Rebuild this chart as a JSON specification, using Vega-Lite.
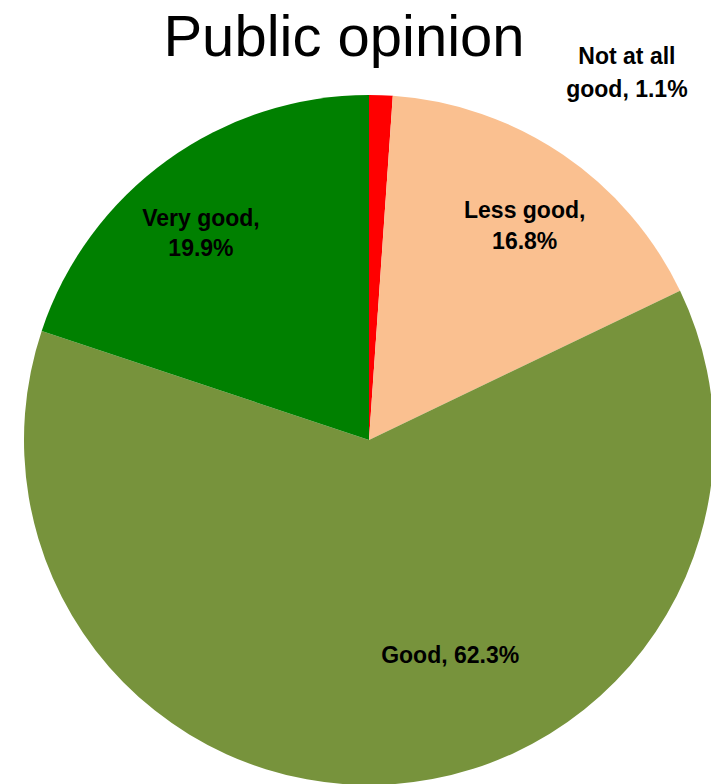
{
  "$schema": "https://vega.github.io/schema/vega-lite/v6.json",
  "autosize": "none",
  "padding": {"left": 27, "top": 96, "right": 0, "bottom": 0},
  "width": 684,
  "height": 688,
  "background": "white",
  "config": {"view": {"stroke": null}},
  "title": {
    "text": "Public opinion",
    "font": "Liberation Sans",
    "fontSize": 58,
    "fontWeight": "normal",
    "color": "black",
    "anchor": "middle",
    "dx": -25,
    "offset": -22
  },
  "data": {
    "values": [
      {"category": "Not at all good", "share": 1.1, "rank": 1, "label": "Not at all\ngood, 1.1%"},
      {"category": "Less good", "share": 16.8, "rank": 2, "label": "Less good,\n16.8%"},
      {"category": "Good", "share": 62.3, "rank": 3, "label": "Good, 62.3%"},
      {"category": "Very good", "share": 19.9, "rank": 4, "label": "Very good,\n19.9%"}
    ]
  },
  "encoding": {
    "theta": {"field": "share", "type": "quantitative", "stack": true},
    "order": {"field": "rank", "type": "quantitative"},
    "color": {
      "field": "category",
      "type": "nominal",
      "scale": {
        "domain": ["Not at all good", "Less good", "Good", "Very good"],
        "range": ["#FF0000", "#FAC090", "#77933C", "#008000"]
      },
      "legend": null
    }
  },
  "layer": [
    {"mark": {"type": "arc", "outerRadius": 345}},
    {
      "mark": {"type": "text", "radius": 260, "dx": -16, "dy": -10, "font": "Liberation Sans", "fontSize": 23, "fontWeight": "bold", "lineBreak": "\n", "lineHeight": 30, "align": "center", "baseline": "middle"},
      "encoding": {"text": {"condition": {"test": "datum.category === 'Very good'", "field": "label"}, "value": ""}, "color": {"value": "black"}}
    },
    {
      "mark": {"type": "text", "radius": 263, "dx": 8, "dy": -11, "font": "Liberation Sans", "fontSize": 23, "fontWeight": "bold", "lineBreak": "\n", "lineHeight": 31, "align": "center", "baseline": "middle"},
      "encoding": {"text": {"condition": {"test": "datum.category === 'Less good'", "field": "label"}, "value": ""}, "color": {"value": "black"}}
    },
    {
      "mark": {"type": "text", "radius": 210, "dx": 68, "dy": 6, "font": "Liberation Sans", "fontSize": 23, "fontWeight": "bold", "lineBreak": "\n", "lineHeight": 30, "align": "center", "baseline": "middle"},
      "encoding": {"text": {"condition": {"test": "datum.category === 'Good'", "field": "label"}, "value": ""}, "color": {"value": "black"}}
    },
    {
      "mark": {"type": "text", "radius": 345, "dx": 246, "dy": -38, "font": "Liberation Sans", "fontSize": 23, "fontWeight": "bold", "lineBreak": "\n", "lineHeight": 33, "align": "center", "baseline": "middle"},
      "encoding": {"text": {"condition": {"test": "datum.category === 'Not at all good'", "field": "label"}, "value": ""}, "color": {"value": "black"}}
    }
  ]
}
